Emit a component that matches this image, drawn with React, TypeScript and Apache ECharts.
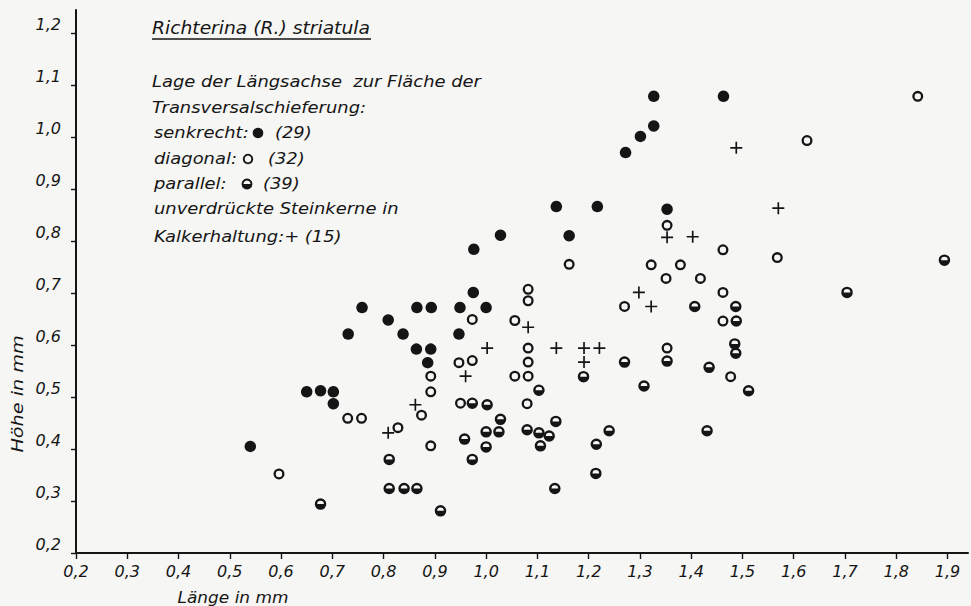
import React, { useEffect, useRef } from "react";
import * as echarts from "echarts";

// ---- data (Länge in mm, Höhe in mm) ----
const senkrecht: [number, number][] = [
  [0.54, 0.405], [0.65, 0.51], [0.677, 0.512], [0.702, 0.51], [0.702, 0.487],
  [0.731, 0.621], [0.758, 0.672], [0.809, 0.648], [0.838, 0.621], [0.864, 0.592],
  [0.892, 0.592], [0.886, 0.566], [0.865, 0.672], [0.893, 0.672], [0.947, 0.621],
  [0.949, 0.672], [0.975, 0.701], [1.0, 0.672], [0.976, 0.784], [1.028, 0.811],
  [1.137, 0.866], [1.162, 0.81], [1.217, 0.866], [1.272, 0.97], [1.301, 1.001],
  [1.327, 1.021], [1.327, 1.078], [1.463, 1.078], [1.353, 0.861],
];

const diagonal: [number, number][] = [
  [0.596, 0.352], [0.73, 0.459], [0.757, 0.459], [0.828, 0.441], [0.874, 0.465],
  [0.892, 0.54], [0.892, 0.51], [0.892, 0.406], [0.947, 0.566], [0.973, 0.57],
  [0.973, 0.649], [0.95, 0.488], [1.056, 0.647], [1.056, 0.54], [1.082, 0.54],
  [1.082, 0.567], [1.082, 0.594], [1.082, 0.685], [1.082, 0.707], [1.08, 0.487],
  [1.162, 0.755], [1.27, 0.674], [1.322, 0.754], [1.351, 0.728], [1.379, 0.754],
  [1.418, 0.728], [1.353, 0.83], [1.462, 0.783], [1.568, 0.768], [1.462, 0.701],
  [1.462, 0.646], [1.353, 0.594], [1.477, 0.539], [1.626, 0.993], [1.842, 1.078],
];

const parallel: [number, number][] = [
  [0.677, 0.294], [0.811, 0.38], [0.811, 0.324], [0.84, 0.324], [0.865, 0.324],
  [0.911, 0.281], [0.958, 0.419], [0.973, 0.38], [0.973, 0.488], [1.002, 0.485],
  [1.0, 0.433], [1.0, 0.404], [1.025, 0.433], [1.028, 0.457], [1.08, 0.437],
  [1.103, 0.431], [1.123, 0.425], [1.106, 0.406], [1.103, 0.513], [1.136, 0.453],
  [1.134, 0.324], [1.19, 0.539], [1.215, 0.409], [1.214, 0.353], [1.24, 0.435],
  [1.27, 0.567], [1.308, 0.521], [1.353, 0.569], [1.407, 0.674], [1.487, 0.674],
  [1.488, 0.646], [1.485, 0.602], [1.487, 0.584], [1.435, 0.557], [1.431, 0.435],
  [1.512, 0.512], [1.704, 0.701], [1.894, 0.763],
];

const steinkerne: [number, number][] = [
  [0.809, 0.431], [0.862, 0.485], [0.96, 0.54], [1.002, 0.594], [1.082, 0.634],
  [1.137, 0.594], [1.191, 0.594], [1.221, 0.594], [1.191, 0.567], [1.298, 0.701],
  [1.322, 0.674], [1.353, 0.807], [1.403, 0.808], [1.57, 0.863], [1.488, 0.979],
];

const xTicks = [0.2, 0.3, 0.4, 0.5, 0.6, 0.7, 0.8, 0.9, 1.0, 1.1, 1.2, 1.3, 1.4, 1.5, 1.6, 1.7, 1.8, 1.9];
const yTicks = [0.2, 0.3, 0.4, 0.5, 0.6, 0.7, 0.8, 0.9, 1.0, 1.1, 1.2];

const titleText = "Richterina (R.) striatula";
const legendLines = [
  "Lage der Längsachse  zur Fläche der",
  "Transversalschieferung:",
];
const legendItems = [
  { label: "senkrecht:", count: "(29)" },
  { label: "diagonal:", count: "(32)" },
  { label: "parallel:", count: "(39)" },
];
const legendTail = ["unverdrückte Steinkerne in", "Kalkerhaltung:+ (15)"];

// ---- styling ----
const INK = "#151515";
const BG = "#f6f6f4";
const FONT = "DejaVu Sans";

const RING =
  "path://M0 10A10 10 0 1 1 20 10A10 10 0 1 1 0 10ZM4.2 10A5.8 5.8 0 1 0 15.8 10A5.8 5.8 0 1 0 4.2 10Z";
const HALF =
  "path://M0 10A10 10 0 1 1 20 10A10 10 0 1 1 0 10ZM4.2 10L15.8 10A5.8 5.8 0 0 0 4.2 10Z";
const PLUS = "path://M8.6 0H11.4V8.6H20V11.4H11.4V20H8.6V11.4H0V8.6H8.6Z";

const fmt = (v: number) => v.toFixed(1).replace(".", ",");

function txt(text: string, x: number, y: number, size = 16, extra: any = {}) {
  const { align, ...rest } = extra;
  return {
    type: "text",
    x,
    y,
    silent: true,
    scaleX: 1.12,
    ...rest,
    style: {
      text,
      fill: INK,
      fontSize: size,
      fontFamily: FONT,
      fontStyle: "italic",
      textAlign: align || "left",
      align: align || "left",
      textVerticalAlign: "middle",
      verticalAlign: "middle",
    },
  };
}

export default function App() {
  const ref = useRef<HTMLDivElement>(null);

  useEffect(() => {
    document.body.style.margin = "0";
    if (!ref.current) return;
    const chart = echarts.init(ref.current, undefined, { renderer: "svg" });

    const legendX = 152;
    const lineY = [81, 107, 132, 158, 183, 208, 236];
    const markerX = [258, 248, 247];
    const countX = [275, 268, 263];

    const graphics: any[] = [];
    graphics.push(txt(titleText, 152, 28, 17, { scaleX: 1.1 }));
    graphics.push({
      type: "line",
      silent: true,
      shape: { x1: 152, y1: 39, x2: 371, y2: 39 },
      style: { stroke: INK, lineWidth: 1.4 },
    });
    legendLines.forEach((l, i) => graphics.push(txt(l, legendX, lineY[i])));
    legendItems.forEach((it, i) => {
      const y = lineY[2 + i];
      graphics.push(txt(it.label, legendX + 2, y));
      graphics.push(txt(it.count, countX[i], y));
    });
    legendTail.forEach((l, i) => graphics.push(txt(l, legendX + 2, lineY[5 + i])));
    // legend keys
    graphics.push({
      type: "circle",
      silent: true,
      shape: { cx: markerX[0], cy: lineY[2] + 1, r: 5.3 },
      style: { fill: INK },
    });
    graphics.push({
      type: "circle",
      silent: true,
      shape: { cx: markerX[1], cy: lineY[3] + 1, r: 4.3 },
      style: { fill: "none", stroke: INK, lineWidth: 1.9 },
    });
    graphics.push({
      type: "circle",
      silent: true,
      shape: { cx: markerX[2], cy: lineY[4] + 1, r: 4.5 },
      style: { fill: BG, stroke: INK, lineWidth: 1.9 },
    });
    graphics.push({
      type: "sector",
      silent: true,
      shape: { cx: markerX[2], cy: lineY[4] + 1, r: 4.7, r0: 0, startAngle: 0, endAngle: Math.PI },
      style: { fill: INK },
    });
    // axis names
    graphics.push(txt("Länge in mm", 233, 598, 16, { align: "center", scaleX: 1.06 }));
    graphics.push(txt("Höhe in mm", 18, 394, 16, { align: "center", rotation: Math.PI / 2, scaleX: 1.2 }));

    chart.setOption({
      animation: false,
      backgroundColor: BG,
      grid: {
        left: 76,
        right: 3,
        top: 10,
        bottom: 53,
        containLabel: false,
        outerBoundsMode: "none",
      },
      xAxis: {
        type: "value",
        min: 0.2,
        max: 1.94,
        axisLine: { show: true, onZero: false, lineStyle: { color: INK, width: 2 } },
        axisTick: { show: true, length: 6, customValues: xTicks, lineStyle: { color: INK, width: 1.4 } },
        axisLabel: {
          customValues: xTicks,
          formatter: fmt,
          margin: 10,
          color: INK,
          fontSize: 16,
          fontStyle: "italic",
          fontFamily: FONT,
        },
        splitLine: { show: false },
      },
      yAxis: {
        type: "value",
        min: 0.2,
        max: 1.244,
        axisLine: { show: true, onZero: false, lineStyle: { color: INK, width: 2 } },
        axisTick: { show: true, length: 5, customValues: yTicks, lineStyle: { color: INK, width: 1.4 } },
        axisLabel: {
          customValues: yTicks,
          formatter: fmt,
          margin: 15,
          color: INK,
          fontSize: 16,
          fontStyle: "italic",
          fontFamily: FONT,
          verticalAlign: "bottom",
          lineHeight: 17,
        },
        splitLine: { show: false },
      },
      graphic: graphics,
      series: [
        {
          type: "scatter",
          name: "senkrecht",
          data: senkrecht,
          symbol: "circle",
          symbolSize: 11.5,
          itemStyle: { color: INK, opacity: 1 },
        },
        {
          type: "scatter",
          name: "diagonal",
          data: diagonal,
          symbol: RING,
          symbolSize: 11,
          itemStyle: { color: INK, opacity: 1 },
        },
        {
          type: "scatter",
          name: "parallel",
          data: parallel,
          symbol: HALF,
          symbolSize: 11.5,
          itemStyle: { color: INK, opacity: 1 },
        },
        {
          type: "scatter",
          name: "unverdrückte Steinkerne",
          data: steinkerne,
          symbol: PLUS,
          symbolSize: 12,
          itemStyle: { color: INK, opacity: 1 },
        },
      ],
    });

    return () => chart.dispose();
  }, []);

  return <div ref={ref} style={{ width: 971, height: 606 }} />;
}
